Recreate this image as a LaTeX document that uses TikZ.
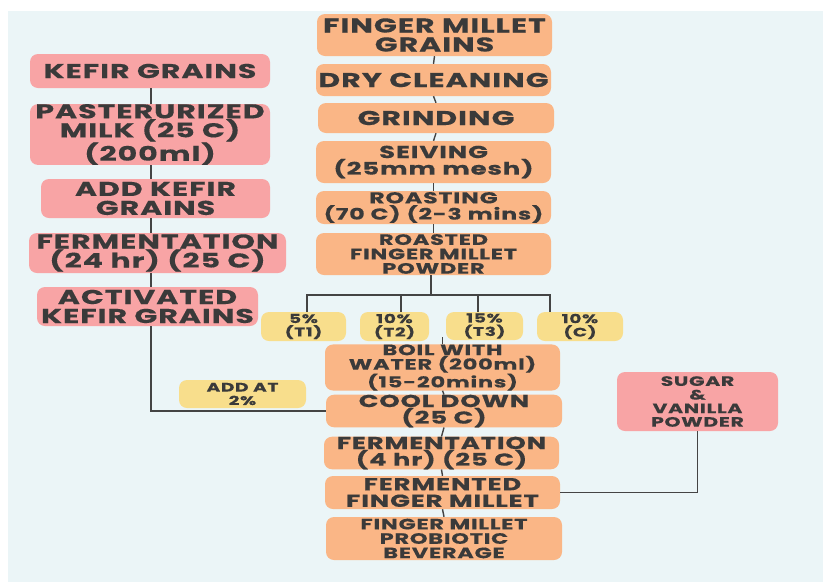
\documentclass[tikz,border=0pt]{standalone}
\usepackage{fontspec}
\setmainfont{Poppins}[FakeStretch=1.5,LetterSpace=5,FakeBold=0.4]
\usetikzlibrary{positioning}

\definecolor{panelbg}{RGB}{235,245,247}
\definecolor{kefirpink}{RGB}{248,164,165}
\definecolor{milletorange}{RGB}{250,182,134}
\definecolor{doseyellow}{RGB}{248,222,140}
\definecolor{inkgray}{RGB}{58,58,58}

\newcommand{\fsbig}{\fontsize{20}{19}\selectfont}
\newcommand{\fsmid}{\fontsize{17.3}{16.6}\selectfont}
\newcommand{\fsroast}{\fontsize{15.8}{16.2}\selectfont}
\newcommand{\fssmall}{\fontsize{15}{14.4}\selectfont}
\newcommand{\fstiny}{\fontsize{12.4}{13.4}\selectfont}

\tikzset{
  stage/.style={rounded corners=8pt, inner sep=0pt, align=center, text=inkgray},
  kefirbox/.style={stage, fill=kefirpink},
  milletbox/.style={stage, fill=milletorange},
  dosebox/.style={stage, fill=doseyellow},
  link/.style={draw=inkgray!95, line width=1.4pt},
}

\begin{document}
\begin{tikzpicture}[x=1pt, y=-1pt]
  \useasboundingbox (0,0) rectangle (823,582);
  \fill[panelbg] (8,11) rectangle (823,582);

  % Kefir column
  \node[kefirbox, minimum width=240pt, minimum height=34pt, font=\bfseries\fsbig] (kefir) at (150,71) {KEFIR GRAINS};
  \node[kefirbox, minimum width=240pt, minimum height=57pt, font=\bfseries\fsbig] (milk) at (150,134.5) {PASTERURIZED\\MILK (25 C)\\(200ml)};
  \node[kefirbox, minimum width=229pt, minimum height=39pt, font=\bfseries\fsbig] (addkefir) at (155.5,198.5) {ADD KEFIR\\GRAINS};
  \node[kefirbox, minimum width=257pt, minimum height=40pt, font=\bfseries\fsbig] (ferm24) at (157.5,253) {FERMENTATION\\(24 hr) (25 C)};
  \node[kefirbox, minimum width=221pt, minimum height=39pt, font=\bfseries\fsbig] (activ) at (147.5,306.5) {ACTIVATED\\KEFIR GRAINS};

  % Millet column
  \node[milletbox, minimum width=235pt, minimum height=42pt, font=\bfseries\fsbig] (grains) at (434.5,35) {FINGER MILLET\\GRAINS};
  \node[milletbox, minimum width=235pt, minimum height=32pt, font=\bfseries\fsbig] (clean) at (433.5,80) {DRY CLEANING};
  \node[milletbox, minimum width=236pt, minimum height=30pt, font=\bfseries\fsbig] (grind) at (436,118) {GRINDING};
  \node[milletbox, minimum width=235pt, minimum height=42pt, font=\bfseries\fsmid] (sieve) at (433.5,162) {SEIVING\\(25mm mesh)};
  \node[milletbox, minimum width=235pt, minimum height=33pt, font=\bfseries\fsroast] (roast) at (433.5,207.5) {ROASTING\\(70 C) (2-3 mins)};
  \node[milletbox, minimum width=235pt, minimum height=42pt, font=\bfseries\fssmall] (powder) at (433.5,254) {ROASTED\\FINGER MILLET\\POWDER};

  % Doses
  \node[dosebox, minimum width=85pt, minimum height=29pt, font=\bfseries\fstiny] (t1) at (303.5,326.5) {5\%\\(T1)};
  \node[dosebox, minimum width=69pt, minimum height=29pt, font=\bfseries\fstiny] (t2) at (394.5,326.5) {10\%\\(T2)};
  \node[dosebox, minimum width=77pt, minimum height=28pt, font=\bfseries\fstiny] (t3) at (484.5,326) {15\%\\(T3)};
  \node[dosebox, minimum width=86pt, minimum height=29pt, font=\bfseries\fstiny] (ctrl) at (580,326.5) {10\%\\(C)};
  \node[dosebox, minimum width=127pt, minimum height=28pt, font=\bfseries\fstiny] (addat) at (242.5,394) {ADD AT\\2\%};

  % Beverage steps
  \node[milletbox, minimum width=235pt, minimum height=41pt, font=\bfseries\fssmall] (boil) at (442.5,367.5) {BOIL WITH\\WATER (200ml)\\(15-20mins)};
  \node[milletbox, minimum width=236pt, minimum height=32pt, font=\bfseries\fsmid] (cool) at (444,411) {COOL DOWN\\(25 C)};
  \node[milletbox, minimum width=235pt, minimum height=32pt, font=\bfseries\fsmid] (ferm4) at (441.5,453) {FERMENTATION\\(4 hr) (25 C)};
  \node[milletbox, minimum width=235pt, minimum height=33pt, font=\bfseries\fsmid] (fermented) at (442.5,492.5) {FERMENTED\\FINGER MILLET};
  \node[milletbox, minimum width=236pt, minimum height=43pt, font=\bfseries\fssmall] (beverage) at (444,538.5) {FINGER MILLET\\PROBIOTIC\\BEVERAGE};
  \node[kefirbox, minimum width=161pt, minimum height=59pt, font=\bfseries\fontsize{13.6}{13.6}\selectfont] (sugar) at (697.5,401.5) {SUGAR\\\&\\VANILLA\\POWDER};

  % Connectors
  \coordinate (kcol) at (151,0);
  \foreach \a/\b in {kefir/milk, milk/addkefir, addkefir/ferm24, ferm24/activ}
    \draw[link] (\a.south -| kcol) -- (\b.north -| kcol);
  \draw[link] (activ.south -| kcol) |- (cool.west);

  \foreach \a/\b in {grains/clean, clean/grind, grind/sieve, sieve/roast, roast/powder}
    \draw[link] (\a.south) -- (\b.north);

  \coordinate (bus) at (431,295);
  \draw[link] (powder.south -| bus) -- (bus);
  \draw[link] ([xshift=3.5pt]t1.north) |- (bus) -| ([xshift=-30pt]ctrl.north);
  \draw[link] ([xshift=6.5pt]t2.north) |- (bus);
  \draw[link] ([xshift=-6.5pt]t3.north) |- (bus);
  \draw[link] (boil.north) -- ++(0,-7);

  \foreach \a/\b in {boil/cool, cool/ferm4, ferm4/fermented, fermented/beverage}
    \draw[link] (\a.south) -- (\b.north);
  \draw[link] (fermented.east) -| (sugar.south);
\end{tikzpicture}
\end{document}
